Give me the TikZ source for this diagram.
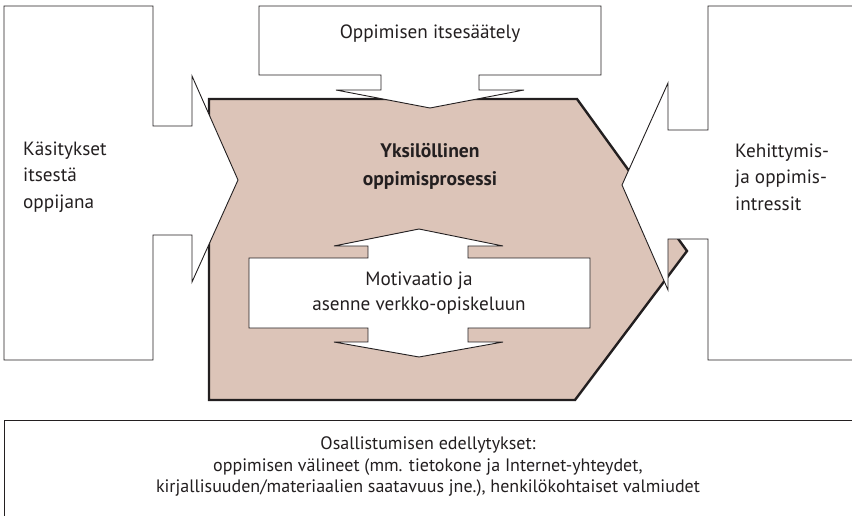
\documentclass[tikz,border=0pt]{standalone}
\usepackage{fontspec}
\setmainfont{PT Sans}
\usepackage{tikz}
\definecolor{peach}{RGB}{220,196,184}
\definecolor{ink}{RGB}{35,31,32}
\tikzset{
  callout/.style={draw=ink,fill=white,line width=0.9pt,line join=miter},
  process/.style={draw=ink,fill=peach,line width=2.4pt,line join=miter},
  txt/.style={text=ink,inner sep=0pt,font=\fontsize{19.2}{26.5}\selectfont},
}

\begin{document}
\begin{tikzpicture}[x=1pt,y=-1pt]
  \useasboundingbox (0,0) rectangle (852,516);
  % individual learning process
  \draw[process] (209,99) -- (577,99) -- (687,251) -- (575,400) -- (209,400) -- cycle;
  % left callout
  \draw[callout] (4,6) -- (153,6) -- (153,126) -- (192,126) -- (192,76) -- (238,180)
    -- (192,282) -- (192,235) -- (153,235) -- (153,360) -- (4,360) -- cycle;
  % right callout
  \draw[callout] (860,6) -- (708,6) -- (708,130) -- (668,130) -- (668,83) -- (622,185)
    -- (668,290) -- (668,239) -- (708,239) -- (708,360) -- (860,360);
  % top callout, arrow down
  \draw[callout] (259,6) -- (601,6) -- (601,75) -- (479,75) -- (479,90) -- (524,90)
    -- (430,108) -- (336,90) -- (381,90) -- (381,75) -- (259,75) -- cycle;
  % motivation, arrows up and down
  \draw[callout] (249,258) -- (368,258) -- (368,246) -- (334,246) -- (419,229)
    -- (503,246) -- (468,246) -- (468,258) -- (590,258) -- (590,328) -- (468,328)
    -- (468,342) -- (503,342) -- (419,357) -- (334,342) -- (368,342) -- (368,328)
    -- (249,328) -- cycle;
  % conditions
  \draw[callout] (4,520) -- (4,420) -- (860,420);

  \node[txt,align=left,anchor=west] (kasitykset) at (23,177) {Käsitykset\\itsestä\\oppijana};
  \node[txt,align=left,anchor=west] (intressit) at (735,177) {Kehittymis-\\ja oppimis-\\intressit};
  \node[txt] (itsesaately) at (430,34) {Oppimisen itsesäätely};
  \node[txt,align=center,font=\fontsize{19.6}{28}\selectfont\bfseries] (prosessi) at (430,166)
    {Yksilöllinen\\oppimisprosessi};
  \node[txt,align=center,font=\fontsize{19.2}{25}\selectfont] (motivaatio) at (419,293)
    {Motivaatio ja\\asenne verkko-opiskeluun};
  \node[txt,align=center,font=\fontsize{18}{21.5}\selectfont] (edellytykset) at (428,467)
    {Osallistumisen edellytykset:\\oppimisen välineet (mm. tietokone ja Internet-yhteydet,\\kirjallisuuden/materiaalien saatavuus jne.), henkilökohtaiset valmiudet};
\end{tikzpicture}
\end{document}
